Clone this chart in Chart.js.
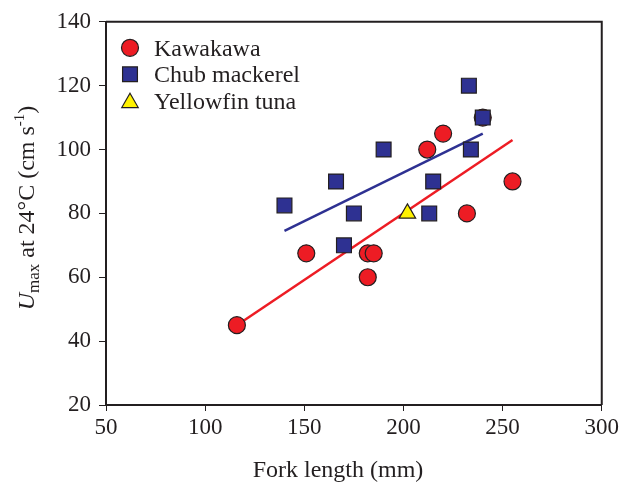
<!DOCTYPE html>
<html>
<head>
<meta charset="utf-8">
<script src="https://cdn.jsdelivr.net/npm/chart.js@4.4.1/dist/chart.umd.min.js"></script>
<style>
  body { margin: 0; background: #fff; }
  #wrap { width: 622px; height: 482px; }
</style>
</head>
<body>
<div id="wrap"><canvas id="fishChart" width="622" height="482"></canvas></div>
<script>
// Data
const kawaX = [116, 151, 182, 185, 182, 212, 220, 232, 255, 240];
const kawaY = [45, 67.5, 67.5, 67.5, 60, 100, 105, 80, 90, 110];
const chubX = [140, 166, 175, 170, 190, 215, 213, 233, 234, 240];
const chubY = [82.5, 90, 80, 70, 100, 90, 80, 120, 100, 110];
const tunaX = [202];
const tunaY = [80];
// regression lines (end points)
const kawaLineX = [116, 255];
const kawaLineY = [45, 103];
const chubLineX = [140, 240];
const chubLineY = [74.5, 105];

const xTicks = [50, 100, 150, 200, 250, 300];
const yTicks = [20, 40, 60, 80, 100, 120, 140];

const RED = "#ed1c24";
const BLUE = "#2e3192";
const YELLOW = "#fff200";
const INK = "#231f20";
const FONT = "'Liberation Serif', 'Times New Roman', serif";

function pts(xs, ys) {
    return xs.map((x, i) => ({ x: x, y: ys[i] }));
}

// Frame, legend and axis titles
const extras = {
    id: "extras",
    afterDraw(chart) {
        const ctx = chart.ctx;
        const a = chart.chartArea;
        ctx.save();
        // top and right border
        ctx.strokeStyle = INK;
        ctx.lineWidth = 2;
        ctx.beginPath();
        ctx.moveTo(a.left, a.top);
        ctx.lineTo(a.right, a.top);
        ctx.lineTo(a.right, a.bottom);
        ctx.stroke();

        // legend
        const items = chart.data.datasets.filter(d => d.inLegend);
        items.forEach((d, i) => {
            const y = a.top + 26 + i * 26.5;
            ctx.fillStyle = d.backgroundColor;
            ctx.strokeStyle = d.borderColor;
            ctx.lineWidth = d.borderWidth;
            Chart.helpers.drawPoint(ctx, {
                pointStyle: d.pointStyle,
                radius: d.pointRadius,
                rotation: 0,
                borderWidth: d.borderWidth
            }, 130, d.pointStyle === "triangle" ? y + 2 : y);
            ctx.fillStyle = INK;
            ctx.font = "24px " + FONT;
            ctx.textBaseline = "alphabetic";
            ctx.textAlign = "left";
            ctx.fillText(d.label, 154, y + 8);
        });

        // x title
        ctx.font = "24px " + FONT;
        ctx.textAlign = "center";
        ctx.textBaseline = "alphabetic";
        ctx.fillText("Fork length (mm)", 338, 477);

        // y title with subscript and superscript
        const parts = [
            { t: "U", f: "italic 24px " + FONT, dy: 0 },
            { t: "max", f: "17px " + FONT, dy: 5 },
            { t: " at 24°C (cm s", f: "24px " + FONT, dy: 0 },
            { t: "-1", f: "15px " + FONT, dy: -10 },
            { t: ")", f: "24px " + FONT, dy: 0 }
        ];
        let total = 0;
        parts.forEach(p => { ctx.font = p.f; p.w = ctx.measureText(p.t).width; total += p.w; });
        ctx.translate(34, 208);
        ctx.rotate(-Math.PI / 2);
        ctx.textAlign = "left";
        let cx = -total / 2;
        parts.forEach(p => {
            ctx.font = p.f;
            ctx.fillText(p.t, cx, p.dy);
            cx += p.w;
        });
        ctx.restore();
    }
};

new Chart(document.getElementById("fishChart"), {
    type: "scatter",
    data: {
        datasets: [
            {
                label: "Kawakawa", inLegend: true, data: pts(kawaX, kawaY),
                pointStyle: "circle", pointRadius: 8.5, backgroundColor: RED,
                borderColor: INK, borderWidth: 1.2, order: 2
            },
            {
                label: "Chub mackerel", inLegend: true, data: pts(chubX, chubY),
                pointStyle: "rect", pointRadius: 10.5, backgroundColor: BLUE,
                borderColor: INK, borderWidth: 1.2, order: 1
            },
            {
                label: "Yellowfin tuna", inLegend: true, data: pts(tunaX, tunaY),
                pointStyle: "triangle", pointRadius: 9.5, backgroundColor: YELLOW,
                borderColor: INK, borderWidth: 1.2, order: 0
            },
            {
                label: "Kawakawa fit", data: pts(kawaLineX, kawaLineY), showLine: true,
                pointRadius: 0, borderColor: RED, borderWidth: 2.5, order: 10
            },
            {
                label: "Chub fit", data: pts(chubLineX, chubLineY), showLine: true,
                pointRadius: 0, borderColor: BLUE, borderWidth: 2.5, order: 10
            }
        ]
    },
    options: {
        responsive: false,
        animation: false,
        layout: { padding: { top: 21, right: 19, left: 0, bottom: 0 } },
        plugins: { legend: { display: false }, tooltip: { enabled: false } },
        scales: {
            x: {
                type: "linear", min: 50, max: 300,
                afterBuildTicks: s => { s.ticks = xTicks.map(v => ({ value: v })); },
                afterFit: s => { s.height = 77; },
                ticks: { color: INK, font: { family: FONT, size: 23 }, padding: 3, maxRotation: 0 },
                grid: { drawOnChartArea: false, tickLength: 6, color: INK, lineWidth: 1 },
                border: { color: INK, width: 2 }
            },
            y: {
                type: "linear", min: 20, max: 140,
                afterBuildTicks: s => { s.ticks = yTicks.map(v => ({ value: v })); },
                afterFit: s => { s.width = 106; },
                ticks: { color: INK, font: { family: FONT, size: 23 }, padding: 8 },
                grid: { drawOnChartArea: false, tickLength: 7, color: INK, lineWidth: 1 },
                border: { color: INK, width: 2 }
            }
        }
    },
    plugins: [extras]
});
</script>
</body>
</html>
